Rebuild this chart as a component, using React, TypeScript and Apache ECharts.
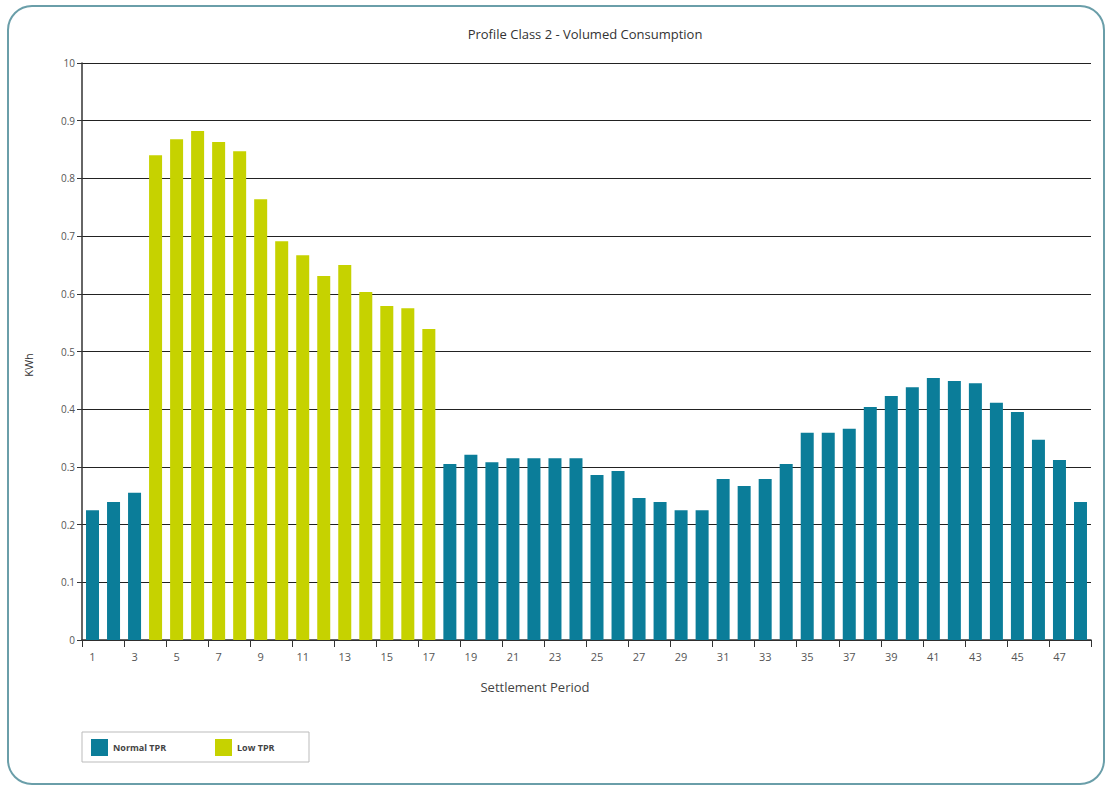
import React, { useEffect, useRef } from "react";
import * as echarts from "echarts";

const periods: string[] = Array.from({ length: 48 }, (_, i) => String(i + 1));

const consumption: number[] = [
  0.225, 0.239, 0.255, 0.84, 0.868, 0.882, 0.863, 0.847, 0.764, 0.691,
  0.667, 0.631, 0.65, 0.603, 0.579, 0.575, 0.539, 0.305, 0.321, 0.308,
  0.315, 0.315, 0.315, 0.315, 0.286, 0.293, 0.246, 0.239, 0.225, 0.225,
  0.279, 0.267, 0.279, 0.305, 0.359, 0.359, 0.366, 0.404, 0.423, 0.438,
  0.454, 0.449, 0.445, 0.411, 0.395, 0.347, 0.312, 0.239,
];

// Low TPR periods: 4..17
const lowTprPeriods: number[] = [4, 5, 6, 7, 8, 9, 10, 11, 12, 13, 14, 15, 16, 17];

const seriesNames = ["Normal TPR", "Low TPR"];
const yTickLabels: Record<string, string> = {
  "0": "0", "0.1": "0.1", "0.2": "0.2", "0.3": "0.3", "0.4": "0.4",
  "0.5": "0.5", "0.6": "0.6", "0.7": "0.7", "0.8": "0.8", "0.9": "0.9", "1": "10",
};

const TEAL = "#0b7d99";
const LIME = "#c6d200";
const FONT = "'Open Sans', 'DejaVu Sans', sans-serif";

export default function App() {
  const ref = useRef<HTMLDivElement>(null);
  useEffect(() => {
    if (!ref.current) return;
    const chart = echarts.init(ref.current, undefined, { renderer: "svg" });
    const normalData = consumption.map((v, i) => (lowTprPeriods.includes(i + 1) ? null : v));
    const lowData = consumption.map((v, i) => (lowTprPeriods.includes(i + 1) ? v : null));
    chart.setOption({
      animation: false,
      backgroundColor: "#ffffff",
      title: {
        text: "Profile Class 2 - Volumed Consumption",
        left: 580,
        top: 22,
        textAlign: "center",
        textStyle: { fontFamily: FONT, fontSize: 13, fontWeight: "normal", color: "#333" },
      },
      legend: { show: false },
      grid: { left: 82, right: 22, top: 63, bottom: 150, containLabel: false },
      xAxis: {
        type: "category",
        data: periods,
        axisLine: { show: true, lineStyle: { color: "#333", width: 1.5 } },
        axisTick: { show: true, alignWithLabel: false, length: 7, lineStyle: { color: "#333" } },
        axisLabel: {
          interval: 1,
          fontFamily: FONT,
          fontSize: 11,
          color: "#555",
          margin: 11,
        },
      },
      yAxis: {
        type: "value",
        min: 0,
        max: 1,
        interval: 0.1,
        axisLine: { show: true, lineStyle: { color: "#333", width: 1.5 } },
        axisTick: { show: true, length: 5, lineStyle: { color: "#333" } },
        splitLine: { show: true, lineStyle: { color: "#222", width: 1 } },
        axisLabel: {
          fontFamily: FONT,
          fontSize: 10,
          color: "#555",
          margin: 7,
          formatter: (v: number) => yTickLabels[String(Math.round(v * 10) / 10)] ?? String(v),
        },
      },
      series: [
        {
          name: seriesNames[0],
          type: "bar",
          barWidth: 13,
          barGap: "-100%",
          data: normalData,
          itemStyle: { color: TEAL },
        },
        {
          name: seriesNames[1],
          type: "bar",
          barWidth: 13,
          data: lowData,
          itemStyle: { color: LIME },
        },
      ],
      graphic: [
        {
          type: "rect",
          shape: { x: 8, y: 6, width: 1096, height: 778, r: 24 },
          style: { fill: "none", stroke: "#6a9ea9", lineWidth: 2 },
          silent: true,
          z: 100,
        },
        {
          type: "text",
          x: 28,
          y: 365,
          rotation: Math.PI / 2,
          style: {
            text: "KWh",
            fontFamily: FONT,
            fontSize: 11,
            fill: "#333",
            textAlign: "center",
            textVerticalAlign: "middle",
          },
        },
        {
          type: "text",
          x: 535,
          y: 687,
          style: {
            text: "Settlement Period",
            fontFamily: FONT,
            fontSize: 13,
            fill: "#444",
            textAlign: "center",
            textVerticalAlign: "middle",
          },
        },
        {
          type: "rect",
          shape: { x: 82, y: 732, width: 227, height: 30 },
          style: { fill: "#fff", stroke: "#bbb", lineWidth: 1 },
        },
        {
          type: "rect",
          shape: { x: 91, y: 739, width: 17, height: 17 },
          style: { fill: TEAL },
        },
        {
          type: "text",
          x: 113,
          y: 747,
          style: {
            text: seriesNames[0],
            fontFamily: FONT,
            fontSize: 9,
            fontWeight: "bold",
            fill: "#444",
            textVerticalAlign: "middle",
          },
        },
        {
          type: "rect",
          shape: { x: 215, y: 739, width: 17, height: 17 },
          style: { fill: LIME },
        },
        {
          type: "text",
          x: 237,
          y: 747,
          style: {
            text: seriesNames[1],
            fontFamily: FONT,
            fontSize: 9,
            fontWeight: "bold",
            fill: "#444",
            textVerticalAlign: "middle",
          },
        },
      ],
    });
    return () => chart.dispose();
  }, []);
  return (
    <div
      ref={ref}
      style={{ position: "fixed", left: 0, top: 0, width: 1113, height: 790, background: "#fff" }}
    />
  );
}
